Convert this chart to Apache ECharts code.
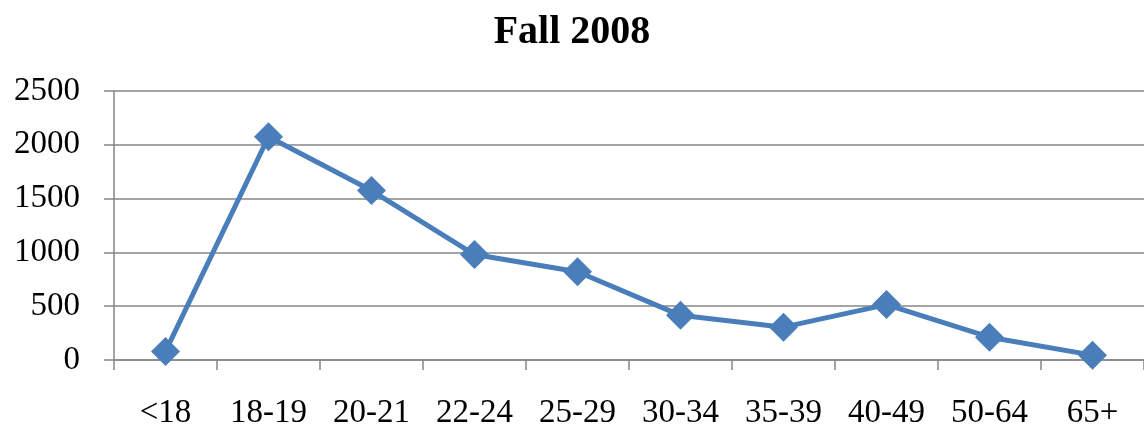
<!DOCTYPE html>
<html><head><meta charset="utf-8">
<script src="https://cdn.jsdelivr.net/npm/echarts@6/dist/echarts.min.js"></script>
<style>html,body{margin:0;padding:0;background:#fff}#c{width:1144px;height:430px}</style>
</head><body><div id="c"></div>
<script>
const categories = ['<18','18-19','20-21','22-24','25-29','30-34','35-39','40-49','50-64','65+'];
const values = [80, 2075, 1575, 980, 820, 415, 305, 515, 212, 45];
const titleText = 'Fall 2008';
const font = '"Liberation Serif", "DejaVu Serif", serif';
const chart = echarts.init(document.getElementById('c'), null, {renderer:'canvas'});
chart.setOption({
  animation:false,
  backgroundColor:'#ffffff',
  title:{text:titleText,left:'center',top:8,textStyle:{fontFamily:font,fontSize:40,fontWeight:'bold',color:'#000'}},
  grid:{left:114,right:-2,top:91,bottom:68,containLabel:false},
  xAxis:{type:'category',data:categories,boundaryGap:true,
    axisLine:{lineStyle:{color:'#868686',width:1.5}},
    axisTick:{show:true,length:10,lineStyle:{color:'#868686',width:1.5}},
    axisLabel:{fontFamily:font,fontSize:33,color:'#000',margin:37,interval:0}},
  yAxis:{type:'value',min:0,max:2500,interval:500,
    axisLine:{show:true,lineStyle:{color:'#868686',width:1.5}},
    axisTick:{show:true,length:10,lineStyle:{color:'#868686',width:1.5}},
    splitLine:{lineStyle:{color:'#868686',width:1.5}},
    axisLabel:{fontFamily:font,fontSize:33,color:'#000',margin:34,formatter:function(v){return String(v);}}},
  series:[{type:'line',data:values,symbol:'diamond',symbolSize:29,
    lineStyle:{color:'#4a7ebb',width:5},itemStyle:{color:'#4a7ebb'}}]
});
</script></body></html>
